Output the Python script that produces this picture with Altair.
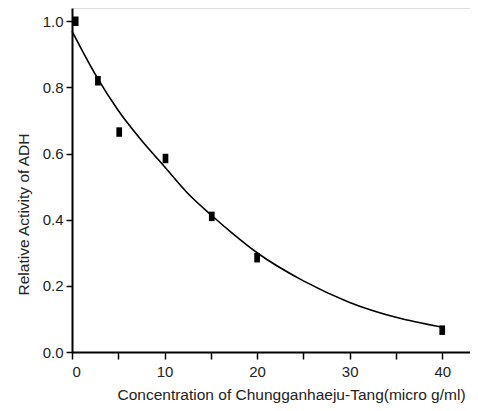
import altair as alt
import pandas as pd

# measured points
pt_x = [0.4, 2.8, 5.1, 10.1, 15.1, 20.0, 40.0]
pt_y = [1.0, 0.82, 0.665, 0.585, 0.41, 0.285, 0.066]

# fitted curve
cv_x = [0, 2.5, 5, 7.5, 10, 12.5, 15, 17.5, 20, 25, 30, 35, 40]
cv_y = [0.97, 0.84, 0.73, 0.64, 0.56, 0.48, 0.415, 0.355, 0.30, 0.215, 0.15, 0.105, 0.075]

x_ticks = [0, 5, 10, 15, 20, 25, 30, 35, 40]
y_ticks = [0.0, 0.1, 0.2, 0.3, 0.4, 0.5, 0.6, 0.7, 0.8, 0.9, 1.0]

pts = pd.DataFrame({"x": pt_x, "y": pt_y})
cv = pd.DataFrame({"x": cv_x, "y": cv_y})

xs = alt.Scale(domain=[0, 43], nice=False, zero=False)
ys = alt.Scale(domain=[0, 1.04], nice=False, zero=False)

x_axis = alt.Axis(
    title="Concentration of Chungganhaeju-Tang(micro g/ml)",
    values=x_ticks,
    labelExpr="datum.value % 10 == 0 ? datum.value : ''",
    grid=False, domainColor="black", domainWidth=2, tickColor="black",
    tickSize=7, tickWidth=1.5, labelFont="Liberation Sans", labelFontSize=15,
    labelColor="#222", labelPadding=5,
    titleFont="Liberation Sans", titleFontSize=15.5, titleFontWeight="normal",
    titleColor="#222", titleX=219, titleY=47, titleBaseline="alphabetic",
)
y_axis = alt.Axis(
    title="Relative Activity of ADH",
    values=y_ticks,
    labelExpr="round(datum.value*10) % 2 == 0 ? format(datum.value, '.1f') : ''",
    grid=False, domainColor="black", domainWidth=2, tickColor="black",
    tickSize=6, tickWidth=1.5, labelFont="Liberation Sans", labelFontSize=15,
    labelColor="#222", labelPadding=3,
    titleFont="Liberation Sans", titleFontSize=15.5, titleFontWeight="normal",
    titleColor="#222", titleX=-44, titleY=206, titleAngle=-90,
    titleBaseline="alphabetic",
)

line = alt.Chart(cv).mark_line(color="black", strokeWidth=1.6, interpolate="monotone").encode(
    x=alt.X("x:Q", scale=xs, axis=x_axis),
    y=alt.Y("y:Q", scale=ys, axis=y_axis),
)
points = alt.Chart(pts).mark_point(
    shape="M-0.6,-1L0.6,-1L0.6,1L-0.6,1Z", size=90, filled=True, color="black", opacity=1
).encode(x=alt.X("x:Q", scale=xs), y=alt.Y("y:Q", scale=ys))

chart = (line + points).properties(
    width=398, height=344, autosize="none",
    padding={"left": 64, "top": 0, "right": 0, "bottom": 51},
).configure_view(stroke=None).configure(background="white")

chart.save("out.html", embed_options={"renderer": "svg", "actions": False})
